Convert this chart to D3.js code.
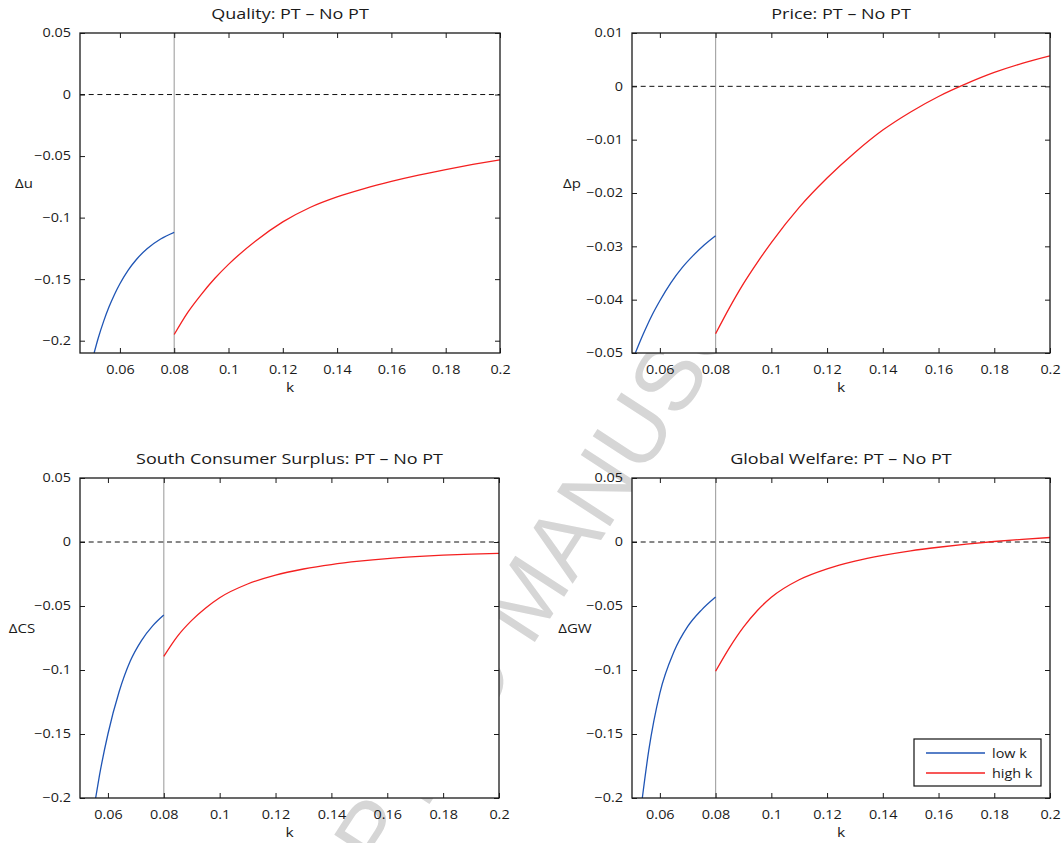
<!DOCTYPE html>
<html>
<head>
<meta charset="utf-8">
<script src="https://cdn.jsdelivr.net/npm/d3@7"></script>
<style>
  body { margin: 0; background: #fff; }
  text { font-family: "Open Sans", sans-serif; fill: #1a1a1a; }
</style>
</head>
<body>
<div id="container"></div>
<script>
// values
let kSwitch = 0.08;
let xTicks = [0.06, 0.08, 0.1, 0.12, 0.14, 0.16, 0.18, 0.2];
let kHigh = [0.08, 0.085, 0.09, 0.095, 0.1, 0.11, 0.12, 0.13, 0.14, 0.15, 0.16, 0.17, 0.18, 0.19, 0.2];

let qualityTicks = [0.05, 0, -0.05, -0.1, -0.15, -0.2];
let qualityLowK = [0.0505, 0.052, 0.054, 0.056, 0.058, 0.06, 0.063, 0.066, 0.07, 0.075, 0.08];
let qualityLow = [-0.21, -0.198, -0.1843, -0.1725, -0.1624, -0.1537, -0.1428, -0.1342, -0.1253, -0.1174, -0.112];
let qualityHigh = [-0.195, -0.177, -0.1623, -0.1493, -0.138, -0.119, -0.1035, -0.0918, -0.0832, -0.0764, -0.0706, -0.0655, -0.061, -0.0568, -0.053];

let priceTicks = [0.01, 0, -0.01, -0.02, -0.03, -0.04, -0.05];
let priceLowK = [0.0512, 0.054, 0.057, 0.06, 0.064, 0.068, 0.072, 0.076, 0.08];
let priceLow = [-0.05, -0.0465, -0.0431, -0.0402, -0.0368, -0.034, -0.0317, -0.0297, -0.028];
let priceHigh = [-0.0464, -0.0415, -0.037, -0.033, -0.0293, -0.0227, -0.0172, -0.0124, -0.0082, -0.0048, -0.0019, 0.0005, 0.0026, 0.0043, 0.0057];

let welfareTicks = [0.05, 0, -0.05, -0.1, -0.15, -0.2];
let csLowK = [0.0556, 0.057, 0.06, 0.064, 0.068, 0.072, 0.076, 0.08];
let csLow = [-0.2, -0.182, -0.15, -0.117, -0.093, -0.077, -0.0655, -0.057];
let csHigh = [-0.0893, -0.0733, -0.0612, -0.0515, -0.0435, -0.0328, -0.0258, -0.0211, -0.0176, -0.015, -0.013, -0.0115, -0.0103, -0.0095, -0.0089];

let gwLowK = [0.0537, 0.056, 0.06, 0.065, 0.07, 0.075, 0.08];
let gwLow = [-0.2, -0.163, -0.118, -0.086, -0.066, -0.053, -0.043];
let gwHigh = [-0.101, -0.0825, -0.0665, -0.0535, -0.0432, -0.0295, -0.021, -0.015, -0.0105, -0.0069, -0.0041, -0.0017, 0.0004, 0.0021, 0.0035];

let legendLabels = ["low k", "high k"];
let colors = ["#1f55b5", "#f42020"];
let SX = 1.2; // the figure is stretched sideways

let panels = [
    { title: "Quality: PT \u2013 No PT", ylab: "\u0394u", lowK: qualityLowK, low: qualityLow, high: qualityHigh,
      xMin: 0.0453, yTicks: qualityTicks, yDomain: [-0.21, 0.05], left: 80, top: 33, width: 420, ylabDx: -56 },
    { title: "Price: PT \u2013 No PT", ylab: "\u0394p", lowK: priceLowK, low: priceLow, high: priceHigh,
      xMin: 0.05, yTicks: priceTicks, yDomain: [-0.05, 0.01], left: 632, top: 33, width: 418, ylabDx: -60 },
    { title: "South Consumer Surplus: PT \u2013 No PT", ylab: "\u0394CS", lowK: csLowK, low: csLow, high: csHigh,
      xMin: 0.05, yTicks: welfareTicks, yDomain: [-0.2, 0.05], left: 80, top: 478, width: 419, ylabDx: -58 },
    { title: "Global Welfare: PT \u2013 No PT", ylab: "\u0394GW", lowK: gwLowK, low: gwLow, high: gwHigh,
      xMin: 0.05, yTicks: welfareTicks, yDomain: [-0.2, 0.05], left: 632, top: 478, width: 418, ylabDx: -57, legend: true }
];
let H = 320;

let svg = d3.select("#container")
    .append("svg")
    .attr("width", 1063)
    .attr("height", 843);

// journal watermark; the white plot areas cover it
svg.append("text")
    .attr("transform", "translate(553,614) rotate(-57)")
    .attr("text-anchor", "middle")
    .style("font-family", "'Liberation Sans', sans-serif")
    .style("font-size", "92px")
    .style("fill", "#d6d6d6")
    .text("ACCEPTED MANUSCRIPT");

let fmt = d => (+d.toFixed(3)).toString().replace("-", "\u2212");

function txt(g, x, y, s, size, anchor) {
    return g.append("text")
        .attr("transform", `translate(${x},${y}) scale(${SX},1)`)
        .attr("text-anchor", anchor || "middle")
        .style("font-size", size + "px")
        .text(s);
}

panels.forEach((p, i) => {
    let x = d3.scaleLinear().domain([p.xMin, 0.2]).range([0, p.width]);
    let y = d3.scaleLinear().domain(p.yDomain).range([H, 0]);
    let g = svg.append("g").attr("transform", `translate(${p.left},${p.top})`);

    g.append("rect").attr("width", p.width).attr("height", H).attr("fill", "#fff");
    g.append("clipPath").attr("id", "clip" + i)
        .append("rect").attr("width", p.width).attr("height", H);

    // threshold line and zero line
    g.append("line")
        .attr("x1", x(kSwitch)).attr("x2", x(kSwitch))
        .attr("y1", 0).attr("y2", H)
        .attr("stroke", "#a8a8a8").attr("stroke-width", 1.2);
    g.append("line")
        .attr("x1", 0).attr("x2", p.width)
        .attr("y1", y(0)).attr("y2", y(0))
        .attr("stroke", "#111").attr("stroke-width", 1)
        .attr("stroke-dasharray", "5,3.7");

    let line = d3.line().x(d => x(d[0])).y(d => y(d[1])).curve(d3.curveMonotoneX);
    let series = [d3.zip(p.lowK, p.low), d3.zip(kHigh, p.high)];
    g.append("g").attr("clip-path", `url(#clip${i})`)
        .selectAll("path")
        .data(series)
        .enter()
        .append("path")
        .attr("d", line)
        .attr("fill", "none")
        .attr("stroke", (_, j) => colors[j])
        .attr("stroke-width", 1.3);

    // axes with inward ticks on all four sides
    let axes = [
        g.append("g").attr("transform", `translate(0,${H})`)
            .call(d3.axisBottom(x).tickValues(xTicks).tickSizeInner(-5).tickSizeOuter(0).tickPadding(12).tickFormat(fmt)),
        g.append("g")
            .call(d3.axisTop(x).tickValues(xTicks).tickSizeInner(-5).tickSizeOuter(0).tickFormat("")),
        g.append("g")
            .call(d3.axisLeft(y).tickValues(p.yTicks).tickSizeInner(-5).tickSizeOuter(0).tickPadding(7.5).tickFormat(fmt)),
        g.append("g").attr("transform", `translate(${p.width},0)`)
            .call(d3.axisRight(y).tickValues(p.yTicks).tickSizeInner(-5).tickSizeOuter(0).tickFormat(""))
    ];
    axes.forEach(a => {
        a.select(".domain").remove();
        a.selectAll("line").attr("stroke", "#1a1a1a");
        a.selectAll("text")
            .attr("transform", `scale(${SX},1)`)
            .style("font-family", "'Open Sans', sans-serif")
            .style("font-size", "12px")
            .attr("fill", "#1a1a1a");
    });

    g.append("rect")
        .attr("width", p.width).attr("height", H)
        .attr("fill", "none")
        .attr("stroke", "#1a1a1a").attr("stroke-width", 1.3);

    txt(g, p.width / 2, -14, p.title, 15);
    txt(g, p.width / 2, H + 39, "k", 13);
    txt(g, p.ylabDx, H / 2 - 5, p.ylab, 12.5);

    if (p.legend) {
        let lw = 127, lh = 47;
        let lg = g.append("g").attr("transform", `translate(${p.width - 9 - lw},${H - 12 - lh})`);
        lg.append("rect").attr("width", lw).attr("height", lh)
            .attr("fill", "#fff").attr("stroke", "#111").attr("stroke-width", 1.2);
        lg.selectAll("line.key")
            .data(legendLabels)
            .enter()
            .append("line")
            .attr("x1", 12).attr("x2", 71)
            .attr("y1", (_, j) => 14 + j * 20).attr("y2", (_, j) => 14 + j * 20)
            .attr("stroke", (_, j) => colors[j]).attr("stroke-width", 1.3);
        legendLabels.forEach((s, j) => txt(lg, 78, 18.5 + j * 20, s, 12, "start"));
    }
});
</script>
</body>
</html>
